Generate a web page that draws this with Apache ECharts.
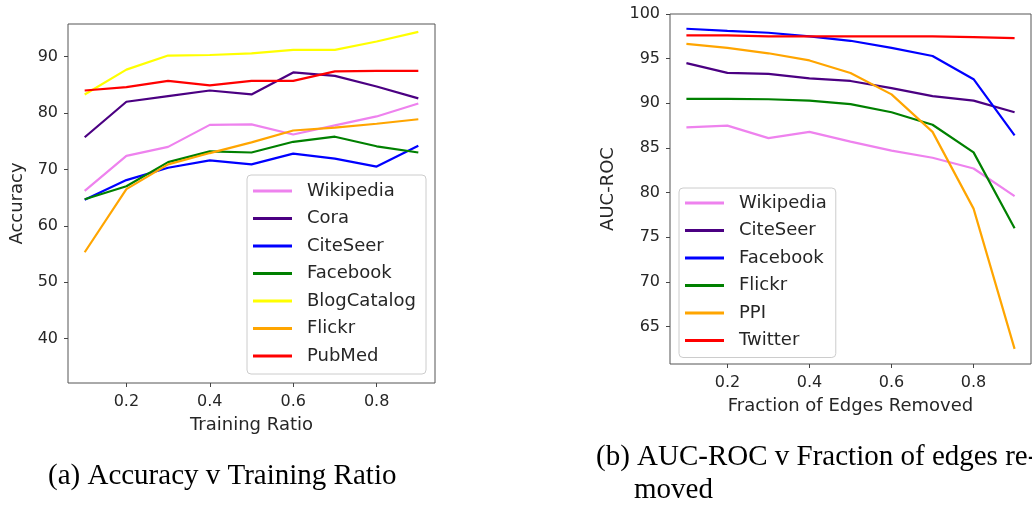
<!DOCTYPE html>
<html>
<head>
<meta charset="utf-8">
<script src="https://cdn.jsdelivr.net/npm/echarts@6/dist/echarts.min.js"></script>
<style>
  html, body { margin: 0; padding: 0; background: #fff; }
  #chartA { position: absolute; left: 0; top: 0; width: 540px; height: 507px; }
  #chartB { position: absolute; left: 540px; top: 0; width: 492px; height: 507px; }
</style>
</head>
<body>
<div id="chartA"></div>
<div id="chartB"></div>
<script>
// (a) accuracy vs training ratio
const trainingRatio = [0.1, 0.2, 0.3, 0.4, 0.5, 0.6, 0.7, 0.8, 0.9];
const accWikipedia   = [66.2, 72.4, 74.0, 77.9, 78.0, 76.2, 77.8, 79.4, 81.7];
const accCora        = [75.7, 82.0, 83.0, 84.0, 83.3, 87.2, 86.6, 84.7, 82.6];
const accCiteSeer    = [64.6, 68.1, 70.3, 71.6, 70.9, 72.8, 71.9, 70.5, 74.2];
const accFacebook    = [64.7, 67.0, 71.3, 73.2, 73.0, 74.9, 75.8, 74.1, 73.0];
const accBlogCatalog = [83.3, 87.7, 90.2, 90.3, 90.6, 91.2, 91.2, 92.7, 94.4];
const accFlickr      = [55.3, 66.5, 70.9, 72.9, 74.8, 76.9, 77.4, 78.1, 78.9];
const accPubMed      = [84.0, 84.6, 85.7, 84.9, 85.7, 85.7, 87.4, 87.5, 87.5];
const accTicks = [40, 50, 60, 70, 80, 90];

// (b) AUC-ROC vs fraction of edges removed
const edgesRemoved = [0.1, 0.2, 0.3, 0.4, 0.5, 0.6, 0.7, 0.8, 0.9];
const aucWikipedia = [87.3, 87.5, 86.1, 86.8, 85.7, 84.7, 83.9, 82.7, 79.6];
const aucCiteSeer  = [94.5, 93.4, 93.3, 92.8, 92.5, 91.7, 90.8, 90.3, 89.0];
const aucFacebook  = [98.35, 98.1, 97.9, 97.5, 97.0, 96.2, 95.3, 92.7, 86.4];
const aucFlickr    = [90.5, 90.5, 90.45, 90.3, 89.9, 89.0, 87.6, 84.5, 76.0];
const aucPPI       = [96.65, 96.2, 95.6, 94.8, 93.4, 91.0, 86.8, 78.2, 62.5];
const aucTwitter   = [97.6, 97.6, 97.5, 97.5, 97.5, 97.5, 97.5, 97.4, 97.3];
const aucTicks = [65, 70, 75, 80, 85, 90, 95, 100];

const xTicks = [0.2, 0.4, 0.6, 0.8];

const COLORS = {
  violet: '#ee82ee', indigo: '#4b0082', blue: '#0000ff', green: '#008000',
  yellow: '#ffff00', orange: '#ffa500', red: '#ff0000'
};
const FONT = 'DejaVu Sans';
const TXT = '#262626';

function pairs(xs, ys) { return xs.map((x, i) => [x, ys[i]]); }
function line(name, xs, ys, color) {
  return {
    name, type: 'line', data: pairs(xs, ys), showSymbol: false, symbol: 'none',
    lineStyle: { color, width: 2.2 }, itemStyle: { color }, animation: false
  };
}
function xAxisOf(name, gap) {
  return {
    type: 'value', min: 0.06, max: 0.94, name, nameLocation: 'middle', nameGap: gap,
    nameTextStyle: { fontFamily: FONT, fontSize: 18, color: TXT },
    axisLine: { show: false }, splitLine: { show: false },
    axisTick: { show: true, length: 4, customValues: xTicks, lineStyle: { color: '#444' } },
    axisLabel: { customValues: xTicks, fontFamily: FONT, fontSize: 16, color: TXT, margin: 11,
      formatter: v => v.toFixed(1) }
  };
}
function yAxisOf(name, gap, min, max, ticks) {
  return {
    type: 'value', min, max, name, nameLocation: 'middle', nameGap: gap,
    nameTextStyle: { fontFamily: FONT, fontSize: 18, color: TXT },
    axisLine: { show: false }, splitLine: { show: false },
    axisTick: { show: true, length: 4, customValues: ticks, lineStyle: { color: '#444' } },
    axisLabel: { customValues: ticks, fontFamily: FONT, fontSize: 16, color: TXT, margin: 10 }
  };
}
function legendOf(left, top, padding, textWidth) {
  return {
    orient: 'vertical', left, top, padding, itemGap: 7.5,
    icon: 'rect', itemWidth: 39, itemHeight: 3,
    borderColor: '#cccccc', borderWidth: 1, borderRadius: 4,
    backgroundColor: 'rgba(255,255,255,0.8)',
    textStyle: { fontFamily: FONT, fontSize: 18, color: TXT, lineHeight: 20,
      width: textWidth, padding: [0, 0, 0, 10] }
  };
}

const chartA = echarts.init(document.getElementById('chartA'));
chartA.setOption({
  animation: false,
  grid: { left: 67, top: 24, width: 368, height: 359, show: true,
    borderColor: '#555', borderWidth: 1, backgroundColor: 'transparent' },
  xAxis: xAxisOf('Training Ratio', 33),
  yAxis: yAxisOf('Accuracy', 42, 32.1, 95.8, accTicks),
  legend: legendOf(247, 175, [6, 8, 8, 6], 111),
  series: [
    line('Wikipedia', trainingRatio, accWikipedia, COLORS.violet),
    line('Cora', trainingRatio, accCora, COLORS.indigo),
    line('CiteSeer', trainingRatio, accCiteSeer, COLORS.blue),
    line('Facebook', trainingRatio, accFacebook, COLORS.green),
    line('BlogCatalog', trainingRatio, accBlogCatalog, COLORS.yellow),
    line('Flickr', trainingRatio, accFlickr, COLORS.orange),
    line('PubMed', trainingRatio, accPubMed, COLORS.red)
  ],
  graphic: [{
    type: 'text', left: 48, top: 462,
    style: { text: '(a) Accuracy v Training Ratio', font: '29px "Liberation Serif"', fill: '#000' }
  }]
});

const chartB = echarts.init(document.getElementById('chartB'));
chartB.setOption({
  animation: false,
  grid: { left: 130, top: 14, width: 361, height: 350, show: true,
    borderColor: '#555', borderWidth: 1, backgroundColor: 'transparent' },
  xAxis: xAxisOf('Fraction of Edges Removed', 33),
  yAxis: yAxisOf('AUC-ROC', 53, 60.8, 100, aucTicks),
  legend: legendOf(139, 188, [5, 9, 7, 6], 87),
  series: [
    line('Wikipedia', edgesRemoved, aucWikipedia, COLORS.violet),
    line('CiteSeer', edgesRemoved, aucCiteSeer, COLORS.indigo),
    line('Facebook', edgesRemoved, aucFacebook, COLORS.blue),
    line('Flickr', edgesRemoved, aucFlickr, COLORS.green),
    line('PPI', edgesRemoved, aucPPI, COLORS.orange),
    line('Twitter', edgesRemoved, aucTwitter, COLORS.red)
  ],
  graphic: [{
    type: 'text', left: 56, top: 443,
    style: { text: '(b) AUC-ROC v Fraction of edges re-', font: '29px "Liberation Serif"', fill: '#000' }
  }, {
    type: 'text', left: 94, top: 476,
    style: { text: 'moved', font: '29px "Liberation Serif"', fill: '#000' }
  }]
});
</script>
</body>
</html>
